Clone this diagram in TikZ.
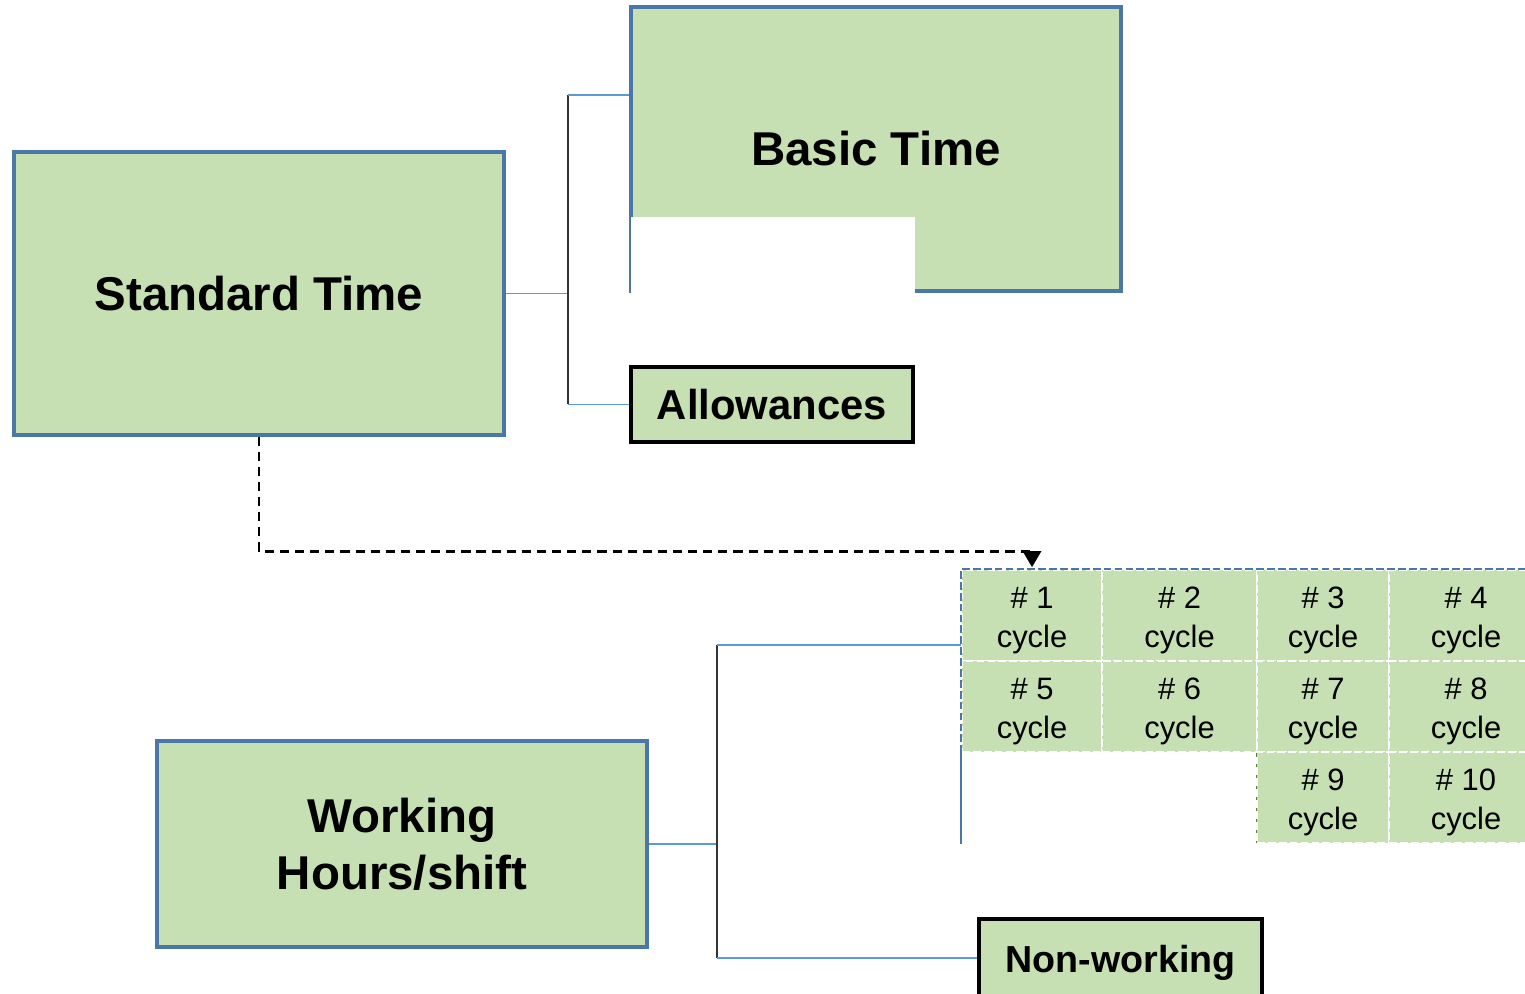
\documentclass[tikz,border=0pt]{standalone}
\usepackage{fontspec}
\setmainfont{Liberation Sans}
\usetikzlibrary{positioning, arrows.meta}

\definecolor{boxgreen}{RGB}{198,224,180}
\definecolor{boxblue}{RGB}{74,118,168}
\definecolor{linkblue}{RGB}{91,155,213}
\definecolor{edgegreen}{RGB}{84,130,53}

\begin{document}
\begin{tikzpicture}[
    mainbox/.style={draw=boxblue, line width=0.9pt, fill=boxgreen, inner sep=0pt,
        minimum width=4.9cm, align=center, font=\bfseries\fontsize{13.5}{16.2}\selectfont},
    subbox/.style={draw=black, line width=0.9pt, fill=boxgreen, inner sep=0pt,
        minimum width=2.82cm, minimum height=0.75cm},
    cell/.style={draw=white, dash pattern=on 2.2pt off 0.9pt, line width=0.6pt,
        fill=boxgreen, inner sep=0pt, minimum height=0.91cm},
    celltext/.style={align=center, inner sep=0pt, font=\fontsize{8.8}{11.1}\selectfont},
    link/.style={linkblue, line width=0.5pt},
    fork/.style={black!80, line width=0.5pt},
]
    \useasboundingbox (0,0) rectangle (15.25,9.93);
    \clip (0,0) rectangle (15.25,9.93);

    % Boxes
    \node[mainbox, minimum height=2.83cm] (std) at (2.59,6.995) {Standard Time};
    \node[mainbox, minimum height=2.84cm] (basic) at (8.76,8.44) {Basic Time};
    \node[subbox, font=\bfseries\fontsize{11.9}{14}\selectfont] (allow) at (7.72,5.885) {Allowances};
    \node[mainbox, minimum height=2.06cm] (work) at (4.02,1.49) {Working\\Hours/shift};
    \node[subbox, minimum width=2.83cm, minimum height=0.87cm, font=\bfseries\fontsize{10.7}{12.5}\selectfont] (nonw) at (11.205,0.305) {Non-working};

    % Cut-out of Basic Time
    \fill[white] ([xshift=0.45pt,yshift=-1pt]basic.south west) rectangle (allow.east |- 0,7.76);

    % Cycles
    \draw[edgegreen, line width=0.6pt] (12.57,1.50) -- (12.57,2.41);
    \foreach \n/\x/\w/\y in {1/10.32/1.40/3.775, 2/11.795/1.55/3.775, 3/13.23/1.32/3.775, 4/14.66/1.54/3.775,
                             5/10.32/1.40/2.865, 6/11.795/1.55/2.865, 7/13.23/1.32/2.865, 8/14.66/1.54/2.865,
                             9/13.23/1.32/1.955, 10/14.66/1.54/1.955}
    {
        \node[cell, minimum width=\w cm] (c\n) at (\x,\y) {};
        \node[celltext, yshift=-1.5pt] (t\n) at (c\n) {\# \n\\cycle};
    }
    \draw[boxblue, line width=0.45pt, dash pattern=on 2.2pt off 0.9pt] (c5.south west) |- (c4.north east);
    \draw[boxblue, line width=0.45pt] (c5.south west) -- (c5.south west |- c9.south);

    % Standard Time branches
    \coordinate (stdtop) at (5.68,8.98);
    \coordinate (stdbot) at (allow.west -| stdtop);
    \draw[link] (std.east) -- (std.east -| stdtop);
    \draw[fork] (stdtop) -- (stdbot);
    \draw[link] (stdtop) -- (stdtop -| basic.west);
    \draw[link] (stdbot) -- (allow.west);

    % Working hours branches
    \coordinate (worktop) at (7.17,3.48);
    \coordinate (workbot) at (7.17,0.35);
    \draw[link] (work.east) -- (work.east -| worktop);
    \draw[fork] (worktop) -- (workbot);
    \draw[link] (worktop) -- (worktop -| c1.west);
    \draw[link] (workbot) -- (workbot -| nonw.west);

    % Link to cycles
    \draw[dash pattern=on 2.6pt off 1.7pt, line width=0.75pt, -{Triangle[width=5.2pt, length=4.6pt]}]
        (std.south) -- ++(0,-1.15) -| ([yshift=0.5pt]c1.north);
\end{tikzpicture}
\end{document}
